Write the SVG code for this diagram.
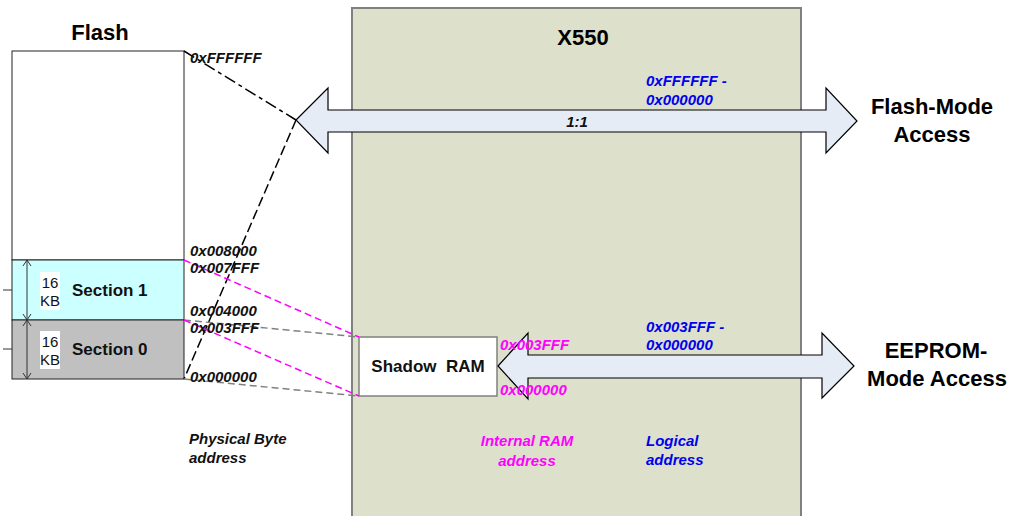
<svg xmlns="http://www.w3.org/2000/svg" width="1011" height="516" viewBox="0 0 1011 516">
<style>
text{font-family:"Liberation Sans",Arial,sans-serif}
.t{font-weight:bold;font-size:22px;fill:#000}
.a{font-weight:bold;font-style:italic;font-size:15px;fill:#111}
.m{font-weight:bold;font-style:italic;font-size:15px;fill:#FF00FF}
.b{font-weight:bold;font-style:italic;font-size:15px;fill:#0000EE}
.sec{font-weight:bold;font-size:17px;fill:#111}
.kb{font-size:15px;fill:#111}
.arr{fill:#E5ECF6;stroke:#000;stroke-width:1.2}
</style>
<rect width="1011" height="516" fill="#fff"/>
<g id="x550">
<rect x="352" y="8" width="449" height="512" fill="#DDE1CB" stroke="#808080" stroke-width="2"/>
<text class="t" x="583" y="45" text-anchor="middle">X550</text>
</g>
<g id="flash">
<text class="t" x="100" y="40" text-anchor="middle">Flash</text>
<rect x="12" y="51" width="172" height="209" fill="#fff" stroke="#222" stroke-width="1"/>
</g>
<g id="section1">
<rect x="12" y="260" width="172" height="60" fill="#CCFFFF" stroke="#222" stroke-width="1"/>
<rect x="40" y="272" width="20" height="38" fill="#fff"/>
<text class="kb" x="50" y="288" text-anchor="middle">16</text>
<text class="kb" x="50" y="306" text-anchor="middle">KB</text>
<text class="sec" x="72" y="296">Section 1</text>
</g>
<g id="section0">
<rect x="12" y="320" width="172" height="59" fill="#C0C0C0" stroke="#222" stroke-width="1"/>
<rect x="40" y="331" width="20" height="38" fill="#fff"/>
<text class="kb" x="50" y="347" text-anchor="middle">16</text>
<text class="kb" x="50" y="365" text-anchor="middle">KB</text>
<text class="sec" x="72" y="355">Section 0</text>
</g>
<g id="dimension" stroke="#333" stroke-width="1" fill="none">
<line x1="27" y1="260" x2="27" y2="379"/>
<polyline points="23,266 27,260 31,266"/>
<polyline points="23,314 27,320 31,314"/>
<polyline points="23,326 27,320 31,326"/>
<polyline points="23,373 27,379 31,373"/>
<line x1="3" y1="290" x2="12" y2="290"/>
<line x1="3" y1="349" x2="12" y2="349"/>
</g>
<g id="shadow-ram">
<rect x="359" y="337" width="138" height="59" fill="#fff" stroke="#808080" stroke-width="1.5"/>
<text class="sec" x="428" y="372" text-anchor="middle" xml:space="preserve">Shadow  RAM</text>
</g>
<g id="connectors" fill="none">
<path d="M184,51 L296,120" stroke="#000" stroke-width="1.5" stroke-dasharray="12,4,4,4"/>
<path d="M296,120 L184,379" stroke="#000" stroke-width="1.5" stroke-dasharray="10,4"/>
<path d="M184,320 L359,337" stroke="#808080" stroke-width="1.5" stroke-dasharray="7,4"/>
<path d="M184,379 L359,396" stroke="#808080" stroke-width="1.5" stroke-dasharray="7,4"/>
<path d="M184,260 L359,337" stroke="#FF00FF" stroke-width="1.5" stroke-dasharray="7,4"/>
<path d="M184,320 L359,396" stroke="#FF00FF" stroke-width="1.5" stroke-dasharray="7,4"/>
<path id="flash-arrow" class="arr" d="M296,120 L328,88 L328,110 L826,110 L826,88 L857,121 L826,153 L826,132 L328,132 L328,153 Z"/>
<path id="eeprom-arrow" class="arr" d="M498,366 L528,333 L528,355 L822,355 L822,333 L854,366 L822,398 L822,378 L528,378 L528,399 Z"/>
</g>
<g id="labels">
<text class="a" x="577" y="127" text-anchor="middle">1:1</text>
<text class="a" x="190" y="63">0xFFFFFF</text>
<text class="a" x="190" y="256">0x008000</text>
<text class="a" x="190" y="273">0x007FFF</text>
<text class="a" x="190" y="316">0x004000</text>
<text class="a" x="190" y="333">0x003FFF</text>
<text class="a" x="190" y="382">0x000000</text>
<text class="a" x="189" y="444">Physical Byte</text>
<text class="a" x="189" y="463">address</text>
<text class="m" x="500" y="350">0x003FFF</text>
<text class="m" x="500" y="395">0x000000</text>
<text class="m" x="527" y="446" text-anchor="middle">Internal RAM</text>
<text class="m" x="527" y="466" text-anchor="middle">address</text>
<text class="b" x="646" y="86">0xFFFFFF -</text>
<text class="b" x="646" y="105">0x000000</text>
<text class="b" x="646" y="332">0x003FFF -</text>
<text class="b" x="646" y="350">0x000000</text>
<text class="b" x="646" y="446">Logical</text>
<text class="b" x="646" y="465">address</text>
<text class="t" x="932" y="114" text-anchor="middle">Flash-Mode</text>
<text class="t" x="932" y="142" text-anchor="middle">Access</text>
<text class="t" x="936" y="358" text-anchor="middle">EEPROM-</text>
<text class="t" x="937" y="386" text-anchor="middle">Mode Access</text>
</g>
</svg>
